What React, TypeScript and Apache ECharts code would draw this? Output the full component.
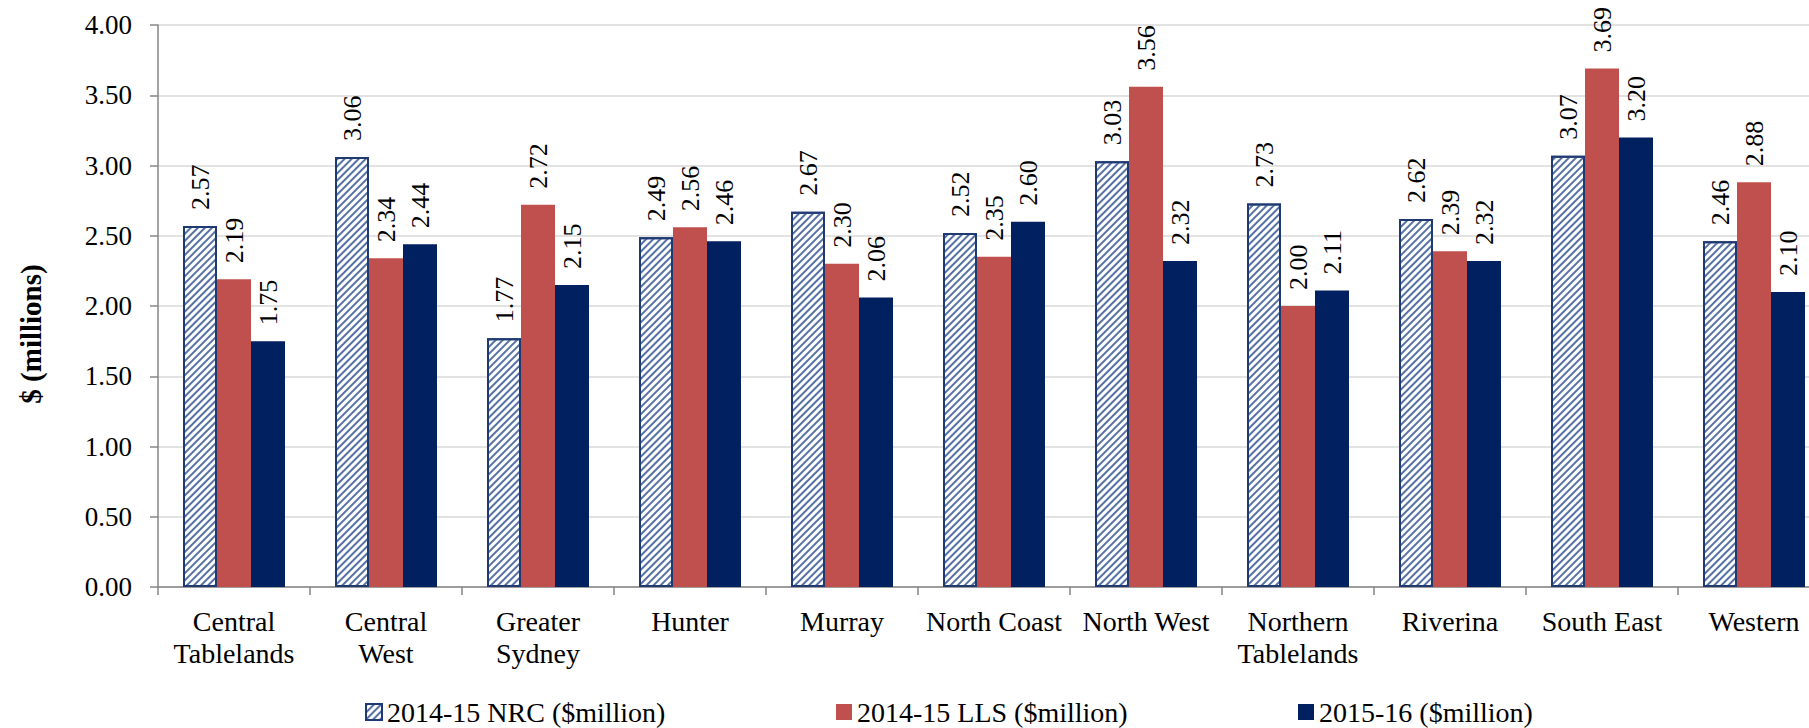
import React, { useEffect, useRef } from "react";
import * as echarts from "echarts";

const categories = [
  "Central\nTablelands",
  "Central\nWest",
  "Greater\nSydney",
  "Hunter",
  "Murray",
  "North Coast",
  "North West",
  "Northern\nTablelands",
  "Riverina",
  "South East",
  "Western",
];
const seriesNames = ["2014-15 NRC ($million)", "2014-15 LLS ($million)", "2015-16 ($million)"];
const nrc = [2.57, 3.06, 1.77, 2.49, 2.67, 2.52, 3.03, 2.73, 2.62, 3.07, 2.46];
const lls = [2.19, 2.34, 2.72, 2.56, 2.3, 2.35, 3.56, 2.0, 2.39, 3.69, 2.88];
const fy16 = [1.75, 2.44, 2.15, 2.46, 2.06, 2.6, 2.32, 2.11, 2.32, 3.2, 2.1];
const yTicks = { min: 0, max: 4, interval: 0.5 };
const yTitle = "$ (millions)";

const FONT = "Liberation Serif";

export default function App() {
  const ref = useRef<HTMLDivElement>(null);
  useEffect(() => {
    if (!ref.current) return;
    const chart = echarts.init(ref.current, undefined, { renderer: "svg" });
    const label = {
      show: true,
      position: "top",
      rotate: 90,
      align: "left",
      verticalAlign: "middle",
      distance: 16,
      fontFamily: FONT,
      fontSize: 26,
      color: "#000",
      formatter: (p: any) => Number(p.value).toFixed(2),
    };
    const legendBase = {
      top: 698,
      padding: 0,
      itemWidth: 16,
      itemHeight: 16,
      icon: "rect",
      textStyle: { fontFamily: FONT, fontSize: 28, color: "#000" },
    };
    chart.setOption({
      animation: false,
      backgroundColor: "#fff",
      textStyle: { fontFamily: FONT },
      grid: { left: 158, top: 25, width: 1672, height: 562, containLabel: false },
      legend: [
        { ...legendBase, left: 365, data: [seriesNames[0]] },
        { ...legendBase, left: 836, data: [seriesNames[1]] },
        { ...legendBase, left: 1298, data: [seriesNames[2]] },
      ],
      xAxis: {
        type: "category",
        data: categories,
        axisLine: { lineStyle: { color: "#868686", width: 1.5 } },
        axisTick: { show: true, length: 8, lineStyle: { color: "#868686", width: 1.5 } },
        axisLabel: {
          interval: 0,
          margin: 18,
          fontFamily: FONT,
          fontSize: 28,
          lineHeight: 32,
          color: "#000",
        },
      },
      yAxis: {
        type: "value",
        min: yTicks.min,
        max: yTicks.max,
        interval: yTicks.interval,
        axisLine: { show: true, lineStyle: { color: "#868686", width: 1.5 } },
        axisTick: { show: true, length: 8, lineStyle: { color: "#868686", width: 1.5 } },
        splitLine: { lineStyle: { color: "#D9D9D9", width: 1.5 } },
        axisLabel: {
          margin: 26,
          fontFamily: FONT,
          fontSize: 27,
          color: "#000",
          formatter: (v: number) => v.toFixed(2),
        },
      },
      graphic: [
        {
          type: "text",
          x: 31,
          y: 334,
          rotation: Math.PI / 2,
          style: {
            text: yTitle,
            fontFamily: FONT,
            fontWeight: "bold",
            fontSize: 29,
            fill: "#000",
            textAlign: "center",
            textVerticalAlign: "middle",
          },
        },
      ],
      series: [
        {
          name: seriesNames[0],
          type: "bar",
          data: nrc,
          barWidth: 34,
          barGap: "0%",
          itemStyle: {
            color: "#ffffff",
            borderColor: "#1F3A73",
            borderWidth: 2,
            decal: {
              symbol: "rect",
              symbolSize: 1,
              dashArrayX: [1, 0],
              dashArrayY: [1.5, 2.5],
              rotation: -Math.PI / 4,
              color: "#5671A3",
            },
          },
          label,
        },
        {
          name: seriesNames[1],
          type: "bar",
          data: lls,
          barWidth: 34,
          barGap: "0%",
          itemStyle: { color: "#C0504D" },
          label,
        },
        {
          name: seriesNames[2],
          type: "bar",
          data: fy16,
          barWidth: 34,
          barGap: "0%",
          itemStyle: { color: "#002060" },
          label,
        },
      ],
    });
    return () => chart.dispose();
  }, []);
  return (
    <div
      style={{
        position: "fixed",
        left: 0,
        top: 0,
        width: 1809,
        height: 728,
        overflow: "hidden",
        background: "#fff",
      }}
    >
      <div ref={ref} style={{ width: 1880, height: 728 }} />
    </div>
  );
}
